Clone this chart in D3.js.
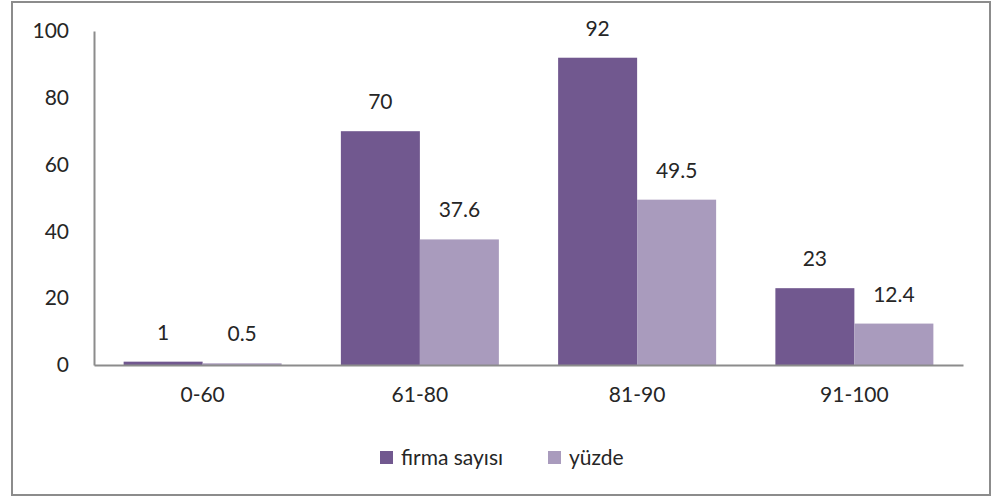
<!DOCTYPE html>
<html>
<head>
<meta charset="utf-8">
<script src="https://cdn.jsdelivr.net/npm/d3@7"></script>
<style>
  body { margin: 0; background: #fff; }
  text { font-family: Lato, "Open Sans", sans-serif; fill: #262626; }
</style>
</head>
<body>
<script>
// ---- data ----
var categories = ["0-60", "61-80", "81-90", "91-100"];
var seriesNames = ["firma sayısı", "yüzde"];
var firmaSayisi = [1, 70, 92, 23];
var yuzde = [0.5, 37.6, 49.5, 12.4];
var yTicks = [0, 20, 40, 60, 80, 100];

var colors = ["#71588F", "#A99BBD"];

var W = 992, H = 500;
var plot = { left: 94, right: 963, top: 31, bottom: 365 };
var fontSize = "21px";

var svg = d3.select("body").append("svg")
    .attr("width", W)
    .attr("height", H);

// chart border
svg.append("rect")
    .attr("x", 12).attr("y", 2)
    .attr("width", 978).attr("height", 493)
    .attr("fill", "#fff")
    .attr("stroke", "#8c8c8c")
    .attr("stroke-width", 2);

var x0 = d3.scaleBand().domain(categories).range([plot.left, plot.right]).paddingInner(0).paddingOuter(0);
var x1 = d3.scaleBand().domain(seriesNames).range([0, x0.bandwidth()]).paddingOuter(0.375).paddingInner(0);
var y = d3.scaleLinear().domain([0, 100]).range([plot.bottom, plot.top]);

var rows = categories.map(function(c, i) {
    return { cat: c, values: [firmaSayisi[i], yuzde[i]] };
});

// bars
var groups = svg.append("g").selectAll("g")
    .data(rows)
    .enter().append("g")
    .attr("transform", function(d) { return "translate(" + x0(d.cat) + ",0)"; });

groups.selectAll("rect")
    .data(function(d) { return d.values.map(function(v, i) { return { key: seriesNames[i], value: v, i: i }; }); })
    .enter().append("rect")
    .attr("x", function(d) { return x1(d.key); })
    .attr("y", function(d) { return y(d.value); })
    .attr("width", x1.bandwidth())
    .attr("height", function(d) { return y(0) - y(d.value); })
    .attr("fill", function(d) { return colors[d.i]; });

// value labels
groups.selectAll("text.val")
    .data(function(d) { return d.values.map(function(v, i) { return { key: seriesNames[i], value: v }; }); })
    .enter().append("text")
    .attr("class", "val")
    .attr("x", function(d) { return x1(d.key) + x1.bandwidth() / 2; })
    .attr("y", function(d) { return y(d.value) - 22; })
    .attr("text-anchor", "middle")
    .style("font-size", fontSize)
    .text(function(d) { return d.value; });

// y axis
var yAxis = svg.append("g")
    .attr("transform", "translate(" + plot.left + ",0)")
    .call(d3.axisLeft(y).tickValues(yTicks).tickSize(0).tickPadding(25));
yAxis.select(".domain").attr("stroke", "#8c8c8c").attr("stroke-width", 2);
yAxis.selectAll("text").style("font-size", fontSize).attr("fill", "#262626");

// x axis
var xAxis = svg.append("g")
    .attr("transform", "translate(0," + plot.bottom + ")")
    .call(d3.axisBottom(x0).tickSize(0).tickPadding(22));
xAxis.select(".domain").attr("stroke", "#8c8c8c").attr("stroke-width", 2);
xAxis.selectAll("text").style("font-size", fontSize).attr("fill", "#262626");

// legend
var legendX = [380, 548];
var legend = svg.append("g").selectAll("g")
    .data(seriesNames)
    .enter().append("g")
    .attr("transform", function(d, i) { return "translate(" + legendX[i] + ",451)"; });

legend.append("rect")
    .attr("width", 13).attr("height", 13)
    .attr("fill", function(d, i) { return colors[i]; });

legend.append("text")
    .attr("x", 21)
    .attr("y", 14)
    .style("font-size", fontSize)
    .text(function(d) { return d; });
</script>
</body>
</html>
